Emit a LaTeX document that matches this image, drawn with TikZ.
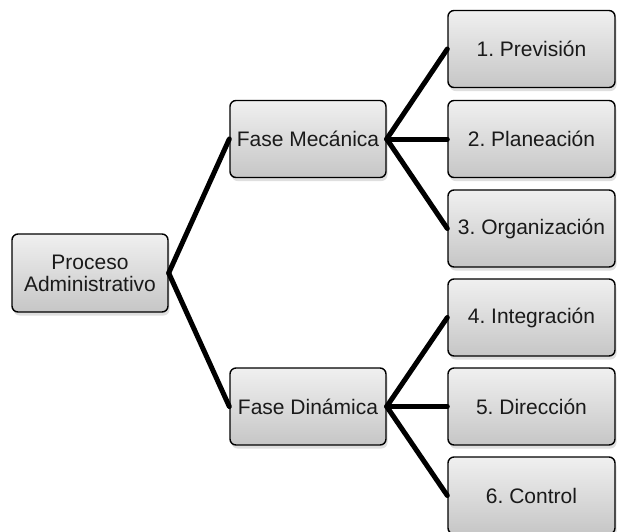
\documentclass[tikz,border=0pt]{standalone}
\usepackage{fontspec}
\setmainfont{Liberation Sans}
\usetikzlibrary{shadows}
\definecolor{boxtop}{HTML}{F0F0F0}
\definecolor{boxbot}{HTML}{C6C6C6}
\definecolor{txt}{HTML}{1A1A1A}
\tikzset{
  box/.style={draw=black, line width=1.4pt, rounded corners=6pt,
    top color=boxtop, bottom color=boxbot,
    drop shadow={opacity=0.25, shadow xshift=1.5pt, shadow yshift=-3.5pt},
    inner sep=0pt, align=center, text=txt,
    font=\fontsize{21}{22}\selectfont\frenchspacing,
    minimum height=77pt},
  lvl1/.style={box, minimum width=156pt},
  lvl2/.style={box, minimum width=167pt},
  conn/.style={line width=5pt, line cap=round}
}
\begin{document}
\begin{tikzpicture}[x=1pt, y=-1pt]
\useasboundingbox (0,0) rectangle (618,531);
\node[lvl1, minimum height=78pt] (pa) at (90,273) {Proceso\\Administrativo};
\node[lvl1] (fm) at (308,139) {Fase Mecánica};
\node[lvl1] (fd) at (308,406.5) {Fase Dinámica};
\node[lvl2] (p1) at (531.5,49) {1. Previsión};
\node[lvl2] (p2) at (531.5,139) {2. Planeación};
\node[lvl2] (p3) at (531.5,228.5) {3. Organización};
\node[lvl2] (p4) at (531.5,317.5) {4. Integración};
\node[lvl2] (p5) at (531.5,406.5) {5. Dirección};
\node[lvl2] (p6) at (531.5,495.5) {6. Control};
\draw[conn] (pa.east) -- (fm.west);
\draw[conn] (pa.east) -- (fd.west);
\draw[conn] (fm.east) -- (p1.west);
\draw[conn] (fm.east) -- (p2.west);
\draw[conn] (fm.east) -- (p3.west);
\draw[conn] (fd.east) -- (p4.west);
\draw[conn] (fd.east) -- (p5.west);
\draw[conn] (fd.east) -- (p6.west);
\end{tikzpicture}
\end{document}
